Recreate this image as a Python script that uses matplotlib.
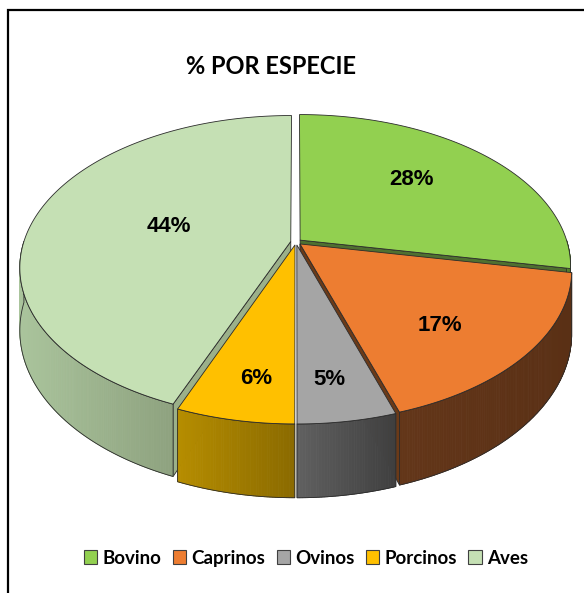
import matplotlib
matplotlib.use('Agg')
import matplotlib.pyplot as plt
import numpy as np
from matplotlib.patches import Polygon, Patch, Rectangle

# datos
especies = ['Bovino', 'Caprinos', 'Ovinos', 'Porcinos', 'Aves']
porcentajes = [28, 17, 5, 6, 44]

# estilo
color_sup = ['#92D050', '#ED7D31', '#A5A5A5', '#FFC000', '#C5E0B4']
color_lado = [('#5f8a32', '#4e7628'), ('#633619', '#5a3015'), ('#606060', '#3f3f3f'),
              ('#b68d00', '#8a6a00'), ('#aac49c', '#8ea27f')]
color_corte = ['#4f7030', '#6b3a18', '#505050', '#8a6a00', '#9bb08a']
borde = '#2b2b2b'

# geometria del pastel 3d (pixeles)
CX, CY = 296, 242
R, RV = 267, 147.5
K = 0.17
H = 61
EXPL = 0.02


def proyectar(X, Z, caida=0.0):
    m = 1.0 / (1.0 - K * Z)
    return CX + R * X * m, CY + RV * Z * m + caida * m


def punto(theta, dx, dz, caida=0.0):
    t = np.radians(theta)
    return proyectar(np.sin(t) + dx, -np.cos(t) + dz, caida)


fig = plt.figure(figsize=(5.84, 5.93), dpi=100)
ax = fig.add_axes([0, 0, 1, 1])
ax.set_xlim(0, 584)
ax.set_ylim(593, 0)
ax.axis('off')

total = sum(porcentajes)
limites = np.concatenate([[0], np.cumsum(porcentajes)]) / total * 360.0

rebanadas = []
for i in range(len(porcentajes)):
    a0, a1 = limites[i], limites[i + 1]
    medio = np.radians((a0 + a1) / 2)
    dx, dz = EXPL * np.sin(medio), -EXPL * np.cos(medio)
    rebanadas.append((i, a0, a1, dx, dz, -np.cos(medio)))

# de atras hacia adelante
for i, a0, a1, dx, dz, zm in sorted(rebanadas, key=lambda r: r[5]):
    centro_sup = proyectar(dx, dz)
    centro_inf = proyectar(dx, dz, H)

    # caras de corte
    for ang, signo in ((a0, -1), (a1, 1)):
        t = np.radians(ang)
        if signo * np.sin(t) > 1e-6:
            p_sup = punto(ang, dx, dz)
            p_inf = punto(ang, dx, dz, H)
            ax.add_patch(Polygon([centro_sup, p_sup, p_inf, centro_inf], closed=True,
                                 facecolor=color_corte[i], edgecolor=borde, lw=0.6))

    # cara lateral con degradado
    s0, s1 = max(a0, 90), min(a1, 270)
    if s1 > s0:
        angs = np.linspace(s0, s1, int((s1 - s0) * 2) + 2)
        sup = np.array([punto(a, dx, dz) for a in angs])
        inf = np.array([punto(a, dx, dz, H) for a in angs])
        xmin, xmax = sup[:, 0].min(), sup[:, 0].max()
        c_izq = np.array(matplotlib.colors.to_rgb(color_lado[i][0]))
        c_der = np.array(matplotlib.colors.to_rgb(color_lado[i][1]))
        for j in range(len(angs) - 1):
            xm = (sup[j, 0] + sup[j + 1, 0]) / 2
            f = 0.5 if xmax - xmin < 1 else (xm - xmin) / (xmax - xmin)
            c = c_izq * (1 - f) + c_der * f
            ax.add_patch(Polygon([sup[j], sup[j + 1], inf[j + 1], inf[j]], closed=True,
                                 facecolor=c, edgecolor=c, lw=0.6))
        ax.add_patch(Polygon(np.vstack([sup, inf[::-1]]), closed=True,
                             fill=False, edgecolor=borde, lw=0.6))

    # cara superior
    angs = np.linspace(a0, a1, int((a1 - a0) * 2) + 2)
    arco = [punto(a, dx, dz) for a in angs]
    ax.add_patch(Polygon([centro_sup] + arco, closed=True,
                         facecolor=color_sup[i], edgecolor=borde, lw=0.6))

# etiquetas de porcentaje
for i, a0, a1, dx, dz, zm in rebanadas:
    beta = np.radians((a1 - a0) / 2)
    rho = (2.0 / 3.0) * np.sin(beta) / beta
    medio = np.radians((a0 + a1) / 2)
    x, y = proyectar(rho * np.sin(medio) + dx, 1.2 * rho * -np.cos(medio) + dz)
    ax.text(x, y, f'{porcentajes[i]}%', ha='center', va='center',
            fontsize=16, fontweight='bold', family='Liberation Sans')

ax.text(271, 67, '% POR ESPECIE', ha='center', va='center',
        fontsize=17, fontweight='bold', family='Lato')

handles = [Patch(facecolor=c, edgecolor='#404040', lw=0.8) for c in color_sup]
ax.legend(handles, especies, loc='center', bbox_to_anchor=(0.524, 0.059), ncol=5,
          frameon=False, handlelength=0.7, handleheight=0.85, handletextpad=0.3,
          columnspacing=0.6, prop={'family': 'Lato', 'weight': 'bold', 'size': 13.5})

fig.patches.append(Rectangle((8 / 584, -0.1), 1.2, 1.1 - 10 / 593, transform=fig.transFigure,
                             fill=False, edgecolor='black', lw=1.6))

plt.savefig('out.png', dpi=100)
plt.close()
